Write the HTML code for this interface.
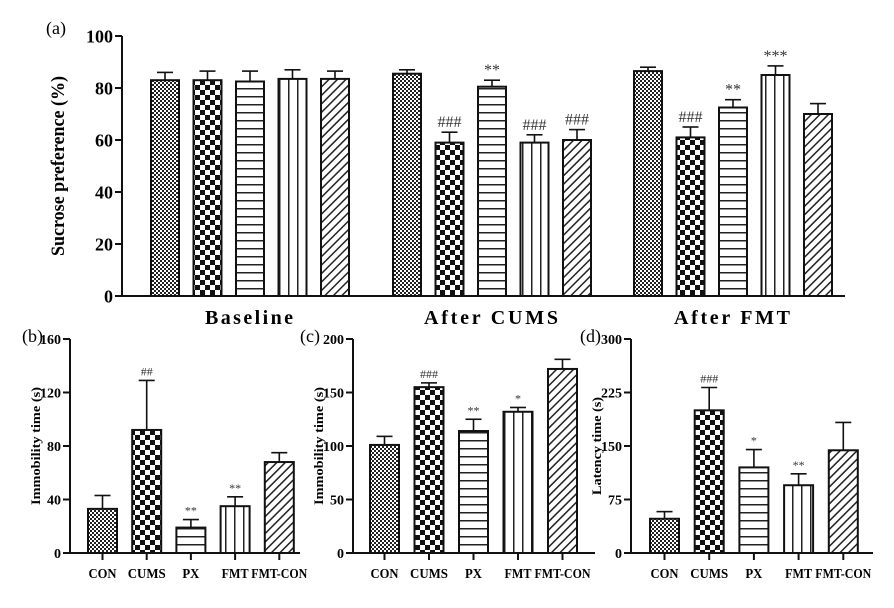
<!DOCTYPE html>
<html><head><meta charset="utf-8"><style>
html,body{margin:0;padding:0;background:#fff}
svg{display:block;font-family:"Liberation Serif",serif}
</style></head><body>
<svg id="c" width="894" height="608" viewBox="0 0 894 608" xmlns="http://www.w3.org/2000/svg">
<defs>
<pattern id="p0" width="4" height="4" patternUnits="userSpaceOnUse"><rect width="4" height="4" fill="#fff"/><rect width="2" height="2" fill="#222"/><rect x="2" y="2" width="2" height="2" fill="#222"/></pattern>
<pattern id="p1" width="10" height="10" patternUnits="userSpaceOnUse"><rect width="10" height="10" fill="#fff"/><rect width="5" height="5" fill="#111"/><rect x="5" y="5" width="5" height="5" fill="#111"/></pattern>
<pattern id="p2" width="10" height="8" patternUnits="userSpaceOnUse"><rect width="10" height="8" fill="#fff"/><rect y="0" width="10" height="1.5" fill="#222"/></pattern>
<pattern id="p3" width="9" height="10" patternUnits="userSpaceOnUse"><rect width="9" height="10" fill="#fff"/><rect x="0" width="1.5" height="10" fill="#222"/></pattern>
<pattern id="p4" width="6" height="6" patternUnits="userSpaceOnUse" patternTransform="rotate(45)"><rect width="6" height="6" fill="#fff"/><rect width="1.5" height="6" fill="#222"/></pattern>
</defs>
<text x="46" y="34" font-size="18">(a)</text>
<text x="22" y="342" font-size="18">(b)</text>
<text x="300" y="342" font-size="18">(c)</text>
<text x="580" y="342" font-size="18">(d)</text>
</svg>
<script>
// Panel (a) data
const aGroups=["Baseline","After CUMS","After FMT"];
const aValues=[[83,83,82.5,83.5,83.5],[85.5,59,80.5,59,60],[86.5,61,72.5,85,70]];
const aErrors=[[3,3.5,4,3.5,3],[1.5,4,2.5,3,4],[1.5,4,3,3.5,4]];
const aMarks=[["","","","",""],["","###","**","###","###"],["","###","**","***",""]];
const aTicks=[0,20,40,60,80,100];
// Panel (b)
const bCats=["CON","CUMS","PX","FMT","FMT-CON"];
const bValues=[33,92,19,35,68];
const bErrors=[10,37,6,7,7];
const bMarks=["","##","**","**",""];
const bTicks=[0,40,80,120,160];
// Panel (c)
const cValues=[101,155,114,132,172];
const cErrors=[8,4,11,4,9];
const cMarks=["","###","**","*",""];
const cTicks=[0,50,100,150,200];
// Panel (d)
const dValues=[48,200,120,95,144];
const dErrors=[10,32,25,16,39];
const dMarks=["","###","*","**",""];
const dTicks=[0,75,150,225,300];

const svg=document.getElementById('c');
const NS="http://www.w3.org/2000/svg";
function mk(tag,attrs,parent){const e=document.createElementNS(NS,tag);for(const k in attrs)e.setAttribute(k,attrs[k]);(parent||svg).appendChild(e);return e;}

function drawAxes(ax,y0,y1,xEnd,ticks,fs,title,tx,tfs,tlen,name){
  const max=ticks[ticks.length-1];
  const Y=v=>y0-(v/max)*(y0-y1);
  const g=mk('g',{});
  
  
  mk('line',{x1:ax,y1:Y(max),x2:ax,y2:y0,stroke:'#111','stroke-width':2},g);
  mk('line',{x1:ax,y1:y0,x2:xEnd,y2:y0,stroke:'#111','stroke-width':2},g);
  ticks.forEach(t=>{
    mk('line',{x1:ax-7,y1:Y(t),x2:ax,y2:Y(t),stroke:'#111','stroke-width':2},g);
    const tt=mk('text',{x:ax-9,y:Y(t)+fs*0.35,'font-size':fs,'font-weight':'bold','text-anchor':'end'},g);
    tt.textContent=t;
    
    
  });
  const cy=(y0+Y(max))/2;
  const yt=mk('text',{x:tx,y:cy,'font-size':tfs,'font-weight':'bold','text-anchor':'middle',textLength:tlen,lengthAdjust:'spacingAndGlyphs',transform:`rotate(-90 ${tx} ${cy})`},g);
  yt.textContent=title;
  
  
  return Y;
}
function bar(x,w,v,e,Y,y0,pat,mark,mfs){
  const g=mk('g',{});
  
  
  const cx=x+w/2;
  mk('line',{x1:cx,y1:Y(v),x2:cx,y2:Y(v+e),stroke:'#111','stroke-width':1.6},g);
  mk('line',{x1:cx-8,y1:Y(v+e),x2:cx+8,y2:Y(v+e),stroke:'#111','stroke-width':1.6},g);
  mk('rect',{x:x,y:Y(v),width:w,height:y0-Y(v),fill:`url(#${pat})`,stroke:'#111','stroke-width':2},g);
  if(mark){const t=mk('text',{x:cx,y:Y(v+e)-5,'font-size':mfs,'text-anchor':'middle',fill:'#333'},g);t.textContent=mark;
    
    }
}
// Panel a
{
  const y0=296,Y=drawAxes(122,296,36,845,aTicks,18,'Sucrose preference (%)',64,19,180,'panel-a');
  const starts=[151,393,634];
  const glen=[88,134,116];
  aGroups.forEach((gname,gi)=>{
    aValues[gi].forEach((v,i)=>bar(starts[gi]+i*42.5,28,v,aErrors[gi][i],Y,y0,'p'+i,aMarks[gi][i],16));
    const t=mk('text',{x:starts[gi]+98,y:324,'font-size':20,'font-weight':'bold','text-anchor':'middle',textLength:glen[gi],lengthAdjust:'spacing'});
    t.textContent=gname;
    
    
  });
}
const catLen=[28,38,17,27,56];
function small(ax,xEnd,x0,step,vals,errs,marks,ticks,title,tlen,name){
  const y0=553,Y=drawAxes(ax,553,339,xEnd,ticks,14,title,ax-30,13,tlen,name);
  vals.forEach((v,i)=>{
    const x=x0+i*step;
    bar(x,29,v,errs[i],Y,y0,'p'+i,marks[i],12);
    mk('line',{x1:x+14.5,y1:y0,x2:x+14.5,y2:y0+7,stroke:'#111','stroke-width':2});
    const t=mk('text',{x:x+14.5,y:578,'font-size':14,'font-weight':'bold','text-anchor':'middle',textLength:catLen[i],lengthAdjust:'spacingAndGlyphs'});
    t.textContent=bCats[i];
    
    
  });
}
small(70,300,88,44.2,bValues,bErrors,bMarks,bTicks,'Immobility time (s)',118,'panel-b');
small(353,595,370,44.5,cValues,cErrors,cMarks,cTicks,'Immobility time (s)',118,'panel-c');
small(631,873,650,44.7,dValues,dErrors,dMarks,dTicks,'Latency time (s)',98,'panel-d');
</script>
</body></html>
